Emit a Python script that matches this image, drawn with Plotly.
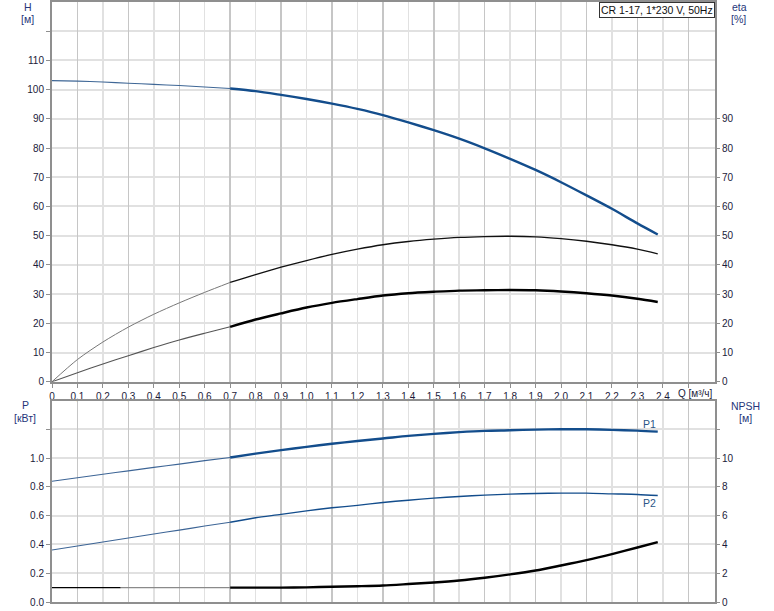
import plotly.graph_objects as go

# ---------------- data ----------------
q_lo = [0.0, 0.1, 0.2, 0.3, 0.4, 0.5, 0.6, 0.7]
q_hi = [0.7, 0.8, 0.9, 1.0, 1.1, 1.2, 1.3, 1.4, 1.5, 1.6, 1.7, 1.8, 1.9, 2.0,
        2.1, 2.2, 2.3, 2.38]

h_lo = [103.1, 102.9, 102.6, 102.2, 101.8, 101.4, 100.9, 100.4]
h_hi = [100.4, 99.5, 98.2, 96.8, 95.2, 93.4, 91.3, 88.8, 86.1, 83.2, 79.9,
        76.3, 72.5, 68.3, 63.8, 59.2, 54.2, 50.4]

eta_a_lo = [0.0, 7.6, 13.6, 18.7, 23.1, 27.0, 30.6, 34.0]
eta_a_hi = [34.0, 36.7, 39.2, 41.5, 43.6, 45.4, 46.9, 48.0, 48.8, 49.4, 49.7,
            49.8, 49.6, 49.0, 48.1, 46.9, 45.4, 43.8]
eta_b_lo = [0.0, 3.1, 6.1, 8.9, 11.7, 14.3, 16.6, 18.8]
eta_b_hi = [18.8, 21.3, 23.4, 25.4, 27.0, 28.3, 29.5, 30.3, 30.8, 31.2, 31.3,
            31.4, 31.3, 30.9, 30.3, 29.5, 28.4, 27.3]

p1_lo = [0.840, 0.864, 0.888, 0.912, 0.936, 0.959, 0.983, 1.005]
p1_hi = [1.005, 1.032, 1.056, 1.079, 1.100, 1.120, 1.137, 1.155, 1.169, 1.181,
         1.190, 1.194, 1.199, 1.201, 1.201, 1.197, 1.192, 1.185]
p2_lo = [0.361, 0.389, 0.417, 0.445, 0.473, 0.500, 0.528, 0.555]
p2_hi = [0.555, 0.586, 0.609, 0.634, 0.655, 0.672, 0.692, 0.708, 0.722, 0.734,
         0.743, 0.750, 0.755, 0.757, 0.757, 0.752, 0.748, 0.741]

q_npsh_a = [0.0, 0.27]
npsh_a = [1.0, 1.0]
q_npsh_b = [0.27, 0.7]
npsh_b = [1.0, 1.0]
npsh_hi = [1.0, 1.0, 1.0, 1.02, 1.06, 1.10, 1.15, 1.25, 1.36, 1.50, 1.69,
           1.92, 2.19, 2.54, 2.91, 3.33, 3.79, 4.16]

x_ticks = [round(i * 0.1, 1) for i in range(26)]
x_text = [("0" if v == 0 else f"{v:.1f}".replace(".", ",")) for v in x_ticks[:-1]] + [""]
x_odd = [round(i * 0.1, 1) for i in range(1, 26, 2)]
q_label = "Q [м³/ч]"
q_label_pos = 2.53

h_ticks = list(range(0, 130, 10))
h_text = [str(v) for v in h_ticks[:-1]] + [""]
eta_ticks = list(range(0, 100, 10))
p_ticks = [0.0, 0.2, 0.4, 0.6, 0.8, 1.0, 1.2]
p_text = ["0.0", "0.2", "0.4", "0.6", "0.8", "1.0", ""]
npsh_ticks = [0, 2, 4, 6, 8, 10, 12]
npsh_text = ["0", "2", "4", "6", "8", "10", ""]

title_text = "CR 1-17, 1*230 V, 50Hz"

# ---------------- style ----------------
BLUE = "#134d8c"
FONT = "Liberation Sans, Arial, sans-serif"
AXC = "#8f8f8f"
GRID_L = "#e1e1e1"
GRID_D = "#c6c6c6"
TICKF = dict(family=FONT, size=10, color="#1b1b3a")
XR = [0, 2.605]

fig = go.Figure()


def add(x, y, xa, ya, color, width, sm=0.8):
    fig.add_trace(go.Scatter(x=x, y=y, xaxis=xa, yaxis=ya, mode="lines",
                             line=dict(color=color, width=width, shape="spline",
                                       smoothing=sm),
                             showlegend=False, hoverinfo="skip"))


# top panel
add(q_lo, h_lo, "x", "y", "#3f6796", 1.1)
add(q_hi, h_hi, "x", "y", BLUE, 2.4)
add(q_lo, eta_a_lo, "x", "y2", "#777777", 1.0)
add(q_hi, eta_a_hi, "x", "y2", "#111111", 1.3)
add(q_lo, eta_b_lo, "x", "y2", "#555555", 1.1)
add(q_hi, eta_b_hi, "x", "y2", "#000000", 2.4)
# bottom panel
add(q_lo, p1_lo, "x2", "y3", "#3d6596", 1.1)
add(q_hi, p1_hi, "x2", "y3", BLUE, 2.4)
add(q_lo, p2_lo, "x2", "y3", "#3d6596", 1.1)
add(q_hi, p2_hi, "x2", "y3", BLUE, 1.4)
add(q_npsh_a, npsh_a, "x2", "y4", "#000000", 1.1)
add(q_npsh_b, npsh_b, "x2", "y4", "#8a8a8a", 1.3)
add(q_hi, npsh_hi, "x2", "y4", "#000000", 2.4)
# dummy traces to register the overlay grid axes
fig.add_trace(go.Scatter(x=[None], y=[None], xaxis="x3", yaxis="y",
                         showlegend=False, hoverinfo="skip"))
fig.add_trace(go.Scatter(x=[None], y=[None], xaxis="x4", yaxis="y3",
                         showlegend=False, hoverinfo="skip"))

top_dom = [(602 - 381) / 602, 1.0]
bot_dom = [0.0, (602 - 400) / 602]

common_x = dict(range=XR, showline=True, linecolor=AXC, linewidth=2,
                mirror=True, zeroline=False, fixedrange=True)

fig.update_layout(
    width=774, height=611,
    margin=dict(l=52, r=59, t=0, b=9),
    paper_bgcolor="white", plot_bgcolor="white",
    font=dict(family=FONT, size=10, color="#1b1b3a"),
    xaxis=dict(**common_x, anchor="y", domain=[0, 1],
               tickmode="array", tickvals=x_ticks, ticktext=x_text,
               tickangle=0,
               ticks="outside", ticklen=4, tickcolor=AXC, tickfont=TICKF,
               showgrid=True, gridcolor=GRID_L, gridwidth=1.5),
    xaxis3=dict(range=XR, overlaying="x", anchor="y", matches="x",
                tickmode="array", tickvals=x_odd, showticklabels=False,
                showgrid=True, gridcolor=GRID_D, gridwidth=1.5, ticks="",
                showline=False, zeroline=False, fixedrange=True),
    xaxis2=dict(**common_x, anchor="y3", domain=[0, 1],
                tickmode="array", tickvals=x_ticks, showticklabels=False,
                ticks="", showgrid=True, gridcolor=GRID_L, gridwidth=1.5),
    xaxis4=dict(range=XR, overlaying="x2", anchor="y3", matches="x2",
                tickmode="array", tickvals=x_odd, showticklabels=False,
                showgrid=True, gridcolor=GRID_D, gridwidth=1.5, ticks="",
                showline=False, zeroline=False, fixedrange=True),
    yaxis=dict(domain=top_dom, anchor="x", range=[0, 130],
               tickmode="array", tickvals=h_ticks, ticktext=h_text,
               ticks="outside", ticklen=4, tickcolor=AXC, tickfont=TICKF,
               showline=True, linecolor=AXC, linewidth=2, mirror=True,
               showgrid=True, gridcolor=GRID_L, gridwidth=2,
               zeroline=False, fixedrange=True),
    yaxis2=dict(overlaying="y", side="right", anchor="x", range=[0, 130],
                tickmode="array", tickvals=eta_ticks,
                ticks="outside", ticklen=4, tickcolor=AXC, tickfont=TICKF,
                showline=False, showgrid=False, zeroline=False,
                fixedrange=True),
    yaxis3=dict(domain=bot_dom, anchor="x2", range=[0, 1.4],
                tickmode="array", tickvals=p_ticks, ticktext=p_text,
                ticks="outside", ticklen=4, tickcolor=AXC, tickfont=TICKF,
                showline=True, linecolor=AXC, linewidth=2, mirror=True,
                showgrid=True, gridcolor=GRID_L, gridwidth=2,
                zeroline=False, fixedrange=True),
    yaxis4=dict(overlaying="y3", side="right", anchor="x2", range=[0, 14],
                tickmode="array", tickvals=npsh_ticks, ticktext=npsh_text,
                ticks="outside", ticklen=4, tickcolor=AXC, tickfont=TICKF,
                showline=False, showgrid=False, zeroline=False,
                fixedrange=True),
)

PW = 663.0
PH = 602.0


def px(xp):
    return (xp - 52) / PW


def py(yp):
    return (PH - yp) / PH


TITLEC = "#26367a"
labels = [
    ("H", 28, 5), ("[м]", 27.5, 17),
    ("eta", 739, 5), ("[%]", 738, 17),
    ("P", 25, 404), ("[кВт]", 25, 417),
    ("NPSH", 745.5, 405), ("[м]", 745, 417),
]
for txt, xx, yy in labels:
    fig.add_annotation(text=txt, xref="paper", yref="paper", x=px(xx), y=py(yy),
                       xanchor="center", yanchor="middle", showarrow=False,
                       font=dict(family=FONT, size=10.5, color=TITLEC))

fig.add_annotation(text=q_label, xref="x", yref="paper", x=q_label_pos,
                   y=py(392.5), xanchor="center", yanchor="middle",
                   showarrow=False, font=TICKF)

fig.add_annotation(text=title_text, xref="paper", yref="paper", x=1.0, y=1.0,
                   xanchor="right", yanchor="top", showarrow=False,
                   bgcolor="white", bordercolor="#333333", borderwidth=1,
                   borderpad=1,
                   font=dict(family=FONT, size=10.5, color="#111111"))

fig.add_annotation(text="P1", x=q_hi[-1], y=p1_hi[-1], xref="x2", yref="y3",
                   xshift=-8, yshift=8, showarrow=False,
                   font=dict(family=FONT, size=10.5, color="#2b5687"))
fig.add_annotation(text="P2", x=q_hi[-1], y=p2_hi[-1], xref="x2", yref="y3",
                   xshift=-8, yshift=-8, showarrow=False,
                   font=dict(family=FONT, size=10.5, color="#2b5687"))

fig.write_html("out.html",
               config={"displayModeBar": False, "staticPlot": True},
               post_script="document.body.style.margin='0';"
                           "document.body.style.padding='0';")
